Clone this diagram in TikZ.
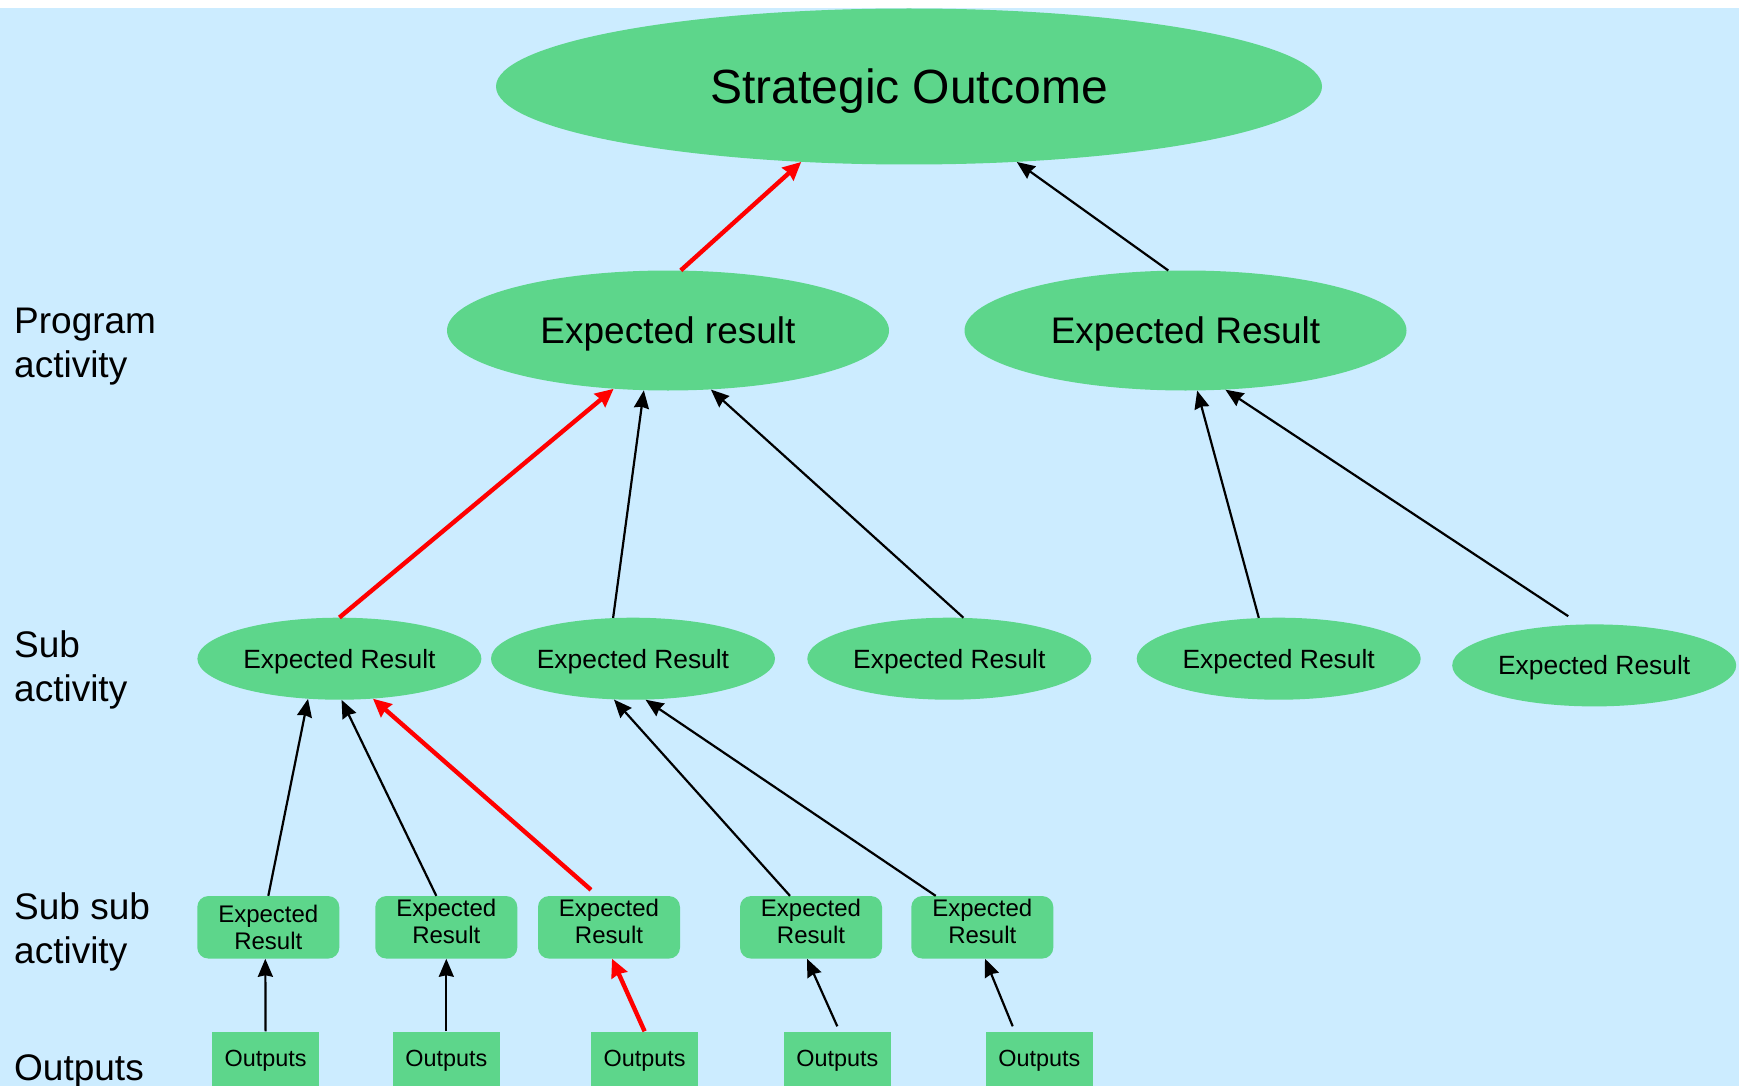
\documentclass[tikz,border=0pt]{standalone}
\usepackage{fontspec}
\setmainfont{Liberation Sans}
\usetikzlibrary{shapes.geometric,arrows.meta}
\definecolor{bgblue}{RGB}{204,236,255}
\definecolor{leaf}{RGB}{93,214,139}
\tikzset{
  fs/.style={font=\fontsize{#1}{#1}\selectfont},
  oval/.style={ellipse,fill=leaf,inner sep=0pt,text depth=0pt},
  top/.style={oval,minimum width=826pt,minimum height=156pt,fs=48},
  prog/.style={oval,minimum width=442pt,minimum height=120pt,fs=37},
  sub/.style={oval,minimum width=284pt,minimum height=82pt,fs=26.4},
  ssbox/.style={rectangle,rounded corners=11pt,fill=leaf,inner sep=0pt,
    minimum width=142pt,minimum height=62.5pt,align=center,
    font=\fontsize{24}{27.5}\selectfont},
  raised/.style={text depth=12pt},
  outbox/.style={rectangle,fill=leaf,inner sep=0pt,minimum width=106.5pt,
    minimum height=54.5pt,text depth=0pt,fs=23.4},
  level/.style={anchor=base west,inner sep=0pt,align=left,
    font=\fontsize{37}{44}\selectfont},
  blk/.style={draw=black,line width=2.2pt,
    -{Stealth[length=18pt,width=15pt,inset=1.5pt]}},
  rd/.style={draw=red,line width=4.4pt,
    -{Stealth[length=18pt,width=17pt,inset=1.5pt]}},
}
\begin{document}
\begin{tikzpicture}[x=1pt,y=-1pt]
\useasboundingbox (0,0) rectangle (1739,1086);
\fill[white] (0,0) rectangle (1739,1086);
\fill[bgblue] (0,8) rectangle (1739,1086);

% level captions (base anchor sits on the last line)
\node[level] (lp) at (14,377.3) {Program\\activity};
\node[level] (ls) at (14,701.7) {Sub\\activity};
\node[level] (lss) at (14,963.3) {Sub sub\\activity};
\node[level] (lo) at (14,1080) {Outputs};

% outcome and program results
\node[top] (so) at (909,86.5) {Strategic Outcome};
\node[prog] (pa1) at (668,330.5) {Expected result};
\node[prog] (pa2) at (1185.5,330.5) {Expected Result};

% sub activity results
\node[sub] (sa1) at (339.4,658.7) {Expected Result};
\node[sub] (sa2) at (633,658.7) {Expected Result};
\node[sub] (sa3) at (949.3,658.7) {Expected Result};
\node[sub] (sa4) at (1278.7,658.7) {Expected Result};
\node[sub] (sa5) at (1594.2,665.4) {Expected Result};

% sub sub activity results
\node[ssbox] (ss1) at (268.3,927.3) {Expected\\Result};
\node[ssbox,raised] (ss2) at (446.3,927.3) {Expected\\Result};
\node[ssbox,raised] (ss3) at (609,927.3) {Expected\\Result};
\node[ssbox,raised] (ss4) at (811,927.3) {Expected\\Result};
\node[ssbox,raised] (ss5) at (982.3,927.3) {Expected\\Result};

% outputs
\node[outbox] (o1) at (265.6,1058.75) {Outputs};
\node[outbox] (o2) at (446.3,1058.75) {Outputs};
\node[outbox] (o3) at (644.6,1058.75) {Outputs};
\node[outbox] (o4) at (837.3,1058.75) {Outputs};
\node[outbox] (o5) at (1039.3,1058.75) {Outputs};

% program -> outcome
\draw[rd] (pa1.78) -- (so.215);
\draw[blk] (pa2.106.2) -- (so.325);

% sub activity -> program
\draw[rd] (sa1.north) -- (pa1.227);
\draw[blk] (sa2.116.3) -- (pa1.248.8);
\draw[blk] (sa3.71.1) -- (pa1.306.4);
\draw[blk] (sa4.116.6) -- (pa2.281.3);
\draw[blk] ([xshift=-26pt,yshift=8pt]sa5.north) -- (pa2.304);

% sub sub activity -> sub activity
\draw[blk] (ss1.north) -- (sa1.232.7);
\draw[blk] ([xshift=-10pt]ss2.north) -- (sa1.273);
\draw[rd] ([xshift=-18pt,yshift=6pt]ss3.north) -- (sa1.310.9);
\draw[blk] ([xshift=-21pt]ss4.north) -- (sa2.245);
\draw[blk] ([xshift=-46.6pt]ss5.north) -- (sa2.287.7);

% outputs -> sub sub activity
\draw[blk] (o1.north) -- ([xshift=-3pt]ss1.south);
\draw[blk] (o2.north) -- (ss2.south);
\draw[rd] (o3.north) -- ([xshift=3pt]ss3.south);
\draw[blk] ([yshift=5pt]o4.north) -- ([xshift=-4pt]ss4.south);
\draw[blk] ([xshift=-26.6pt,yshift=5pt]o5.north) -- ([xshift=2.7pt]ss5.south);
\end{tikzpicture}
\end{document}
